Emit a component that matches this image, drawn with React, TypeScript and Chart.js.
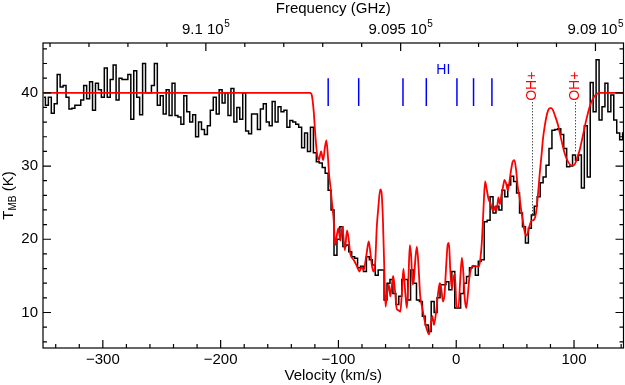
import React, { useEffect, useRef } from 'react';
import { Chart, registerables } from 'chart.js';

Chart.register(...registerables);

// Observed spectrum: channel velocities start at V0 with width DV (km/s)
const CHANNEL_V0 = -350;
const CHANNEL_DV = 2.5;
const TMB_OBSERVED = [
  39.4, 38.3, 39.4, 37.2, 38.5, 42.5, 40.8, 41.0, 39.4, 37.8,
  37.9, 38.3, 38.3, 39.0, 41.0, 39.2, 41.5, 37.6, 41.3, 40.4,
  39.4, 43.4, 39.4, 41.8, 43.8, 39.0, 42.0, 41.8, 41.8, 42.5,
  36.4, 43.0, 39.4, 37.0,
  44.0, 40.0, 40.0, 41.0, 44.0, 38.3, 39.6, 37.1, 40.4, 36.9,
  41.3, 36.9, 36.7, 35.7, 39.6, 37.4, 36.0, 37.0, 34.0, 36.0,
  35.0, 34.3, 35.5, 37.6, 39.4, 37.1, 40.4, 38.6, 40.0, 36.9,
  40.6, 36.0,
  38.0, 36.4, 40.0, 34.8, 34.4, 37.1, 37.1, 35.0, 37.8, 38.5,
  36.0, 35.5, 38.8, 36.0, 38.1, 37.4, 37.6, 35.3, 36.2, 36.0,
  35.7, 35.3, 32.5, 34.5, 32.0, 35.3, 31.8, 30.6, 30.4, 29.8,
  29.0, 26.7, 24.0, 17.8,
  20.0, 21.7, 19.0, 19.2, 18.3, 17.6, 17.4, 16.1, 16.3, 15.6,
  17.6, 17.2, 16.5, 15.1, 15.8, 15.8, 11.7, 14.0, 14.5, 12.6,
  11.1, 12.2, 14.5, 14.5, 11.7, 15.8, 14.0, 11.7, 11.5, 9.5,
  8.3, 7.4,
  11.5, 10.0, 12.0, 13.8, 13.8, 14.2, 13.1, 15.6, 10.6, 10.6,
  12.6, 14.0, 14.9, 16.1, 16.3, 15.1, 17.0, 17.2, 22.4, 22.6,
  25.8, 23.6, 24.5, 24.0, 26.7, 25.8, 27.4, 28.6, 27.9, 26.3,
  23.6, 21.7, 19.5,
  21.5, 23.3, 24.5, 25.8, 27.7, 28.5, 30.1, 32.4, 34.9, 35.0,
  35.1, 34.3, 32.4, 29.9, 30.0, 31.5, 30.8, 31.5, 27.0, 35.5,
  28.5, 41.4, 37.4, 44.5, 36.3, 38.1, 41.3, 37.4, 39.7, 36.3,
  34.5, 33.6, 34.5,
];

// Model fit (red)
const MODEL_VELOCITY = [
  -350, -124, -122.5, -121, -119.5, -118, -116.7, -114.7, -113, -111.5,
  -110.2, -109, -108, -106.8, -105.5, -104, -102.8, -101.4, -100, -98.4,
  -96.6, -94.6, -92.7, -91.3, -89.9, -87.1, -84.2, -82.2, -80.4, -78.6,
  -76.3, -74.3, -72.9, -71.5, -70.1, -68.7, -67.5, -66.2, -64.5, -63.5,
  -62.2, -61, -60, -58.8, -57.2, -56, -54.8, -53.5, -52, -50.5,
  -49, -47.5, -46.2, -44.8, -43.4, -41.9, -40.6, -39.4, -38.3, -37,
  -35.8, -34.6, -33.4, -32, -30.6, -29, -27.2, -25, -23, -21.5,
  -20.2, -18.9, -17, -15.5, -14, -12.7, -11.3, -9.9, -8.5, -7.2,
  -6.2, -5.1, -3.8, -2.6, -1.2, 0.3, 1.9, 3.4, 4.8, 5.8,
  7.2, 8.5, 9.9, 11.3, 12.7, 14.6, 17.5, 19.4, 20.6, 21.7,
  23.1, 24.5, 25.9, 27.4, 28.7, 30.2, 31.5, 33, 34.4, 35.8,
  37.2, 38.5, 39.8, 41, 42.4, 43.8, 45.2, 46.6, 48, 49.4,
  50.8, 52.2, 53.7, 55.1, 56.5, 57.9, 59.3, 60.7, 62.2, 63.8,
  65.5, 67, 68.1, 69.5, 70.9, 72.3, 73.7, 75.1, 76.5, 78,
  79.5, 80.8, 82.2, 83.6, 86.4, 89.2, 92.1, 94.9, 97.7, 100,
  102, 104.8, 107.6, 110.4, 113.3, 116.1, 118.9, 121.7, 142,
];
const MODEL_TMB = [
  40, 40, 39.6, 37.5, 34, 31.5, 30.8, 32, 30.8, 32.5,
  33.5, 31.5, 29, 27.2, 25, 22.6, 19.2, 20.5, 21.5, 19.8,
  21.7, 18.5, 21.2, 20, 18, 17.2, 16.3, 15.6, 16.2, 15.8,
  17.8, 19.7, 18.2, 16.3, 15.6, 17, 21.5, 24.2, 26.8, 26.5,
  22.5, 15.5, 10.8, 12.5, 13.8, 12.2, 13.5, 15, 13, 10.5,
  10.3, 10.1, 12.5, 16, 13, 10.6, 14.5, 19.2, 17.8, 13.8,
  14.8, 17.5, 19, 16.3, 12.3, 10.8, 9.2, 7.7, 7, 8.5,
  9.5, 8.3, 10.2, 12.5, 14, 13.3, 11.5, 12.5, 16.5, 19.3,
  19.5, 16, 13.2, 14.5, 15.3, 10.7, 10.7, 14.5, 17.5, 16,
  12, 10.6, 12.5, 15, 16, 16.4, 16.3, 16.3, 17.5, 19.5,
  24, 27.9, 26.8, 25.5, 25, 24.3, 23.8, 24.5, 24, 25.7,
  24.8, 26.2, 27.2, 28.1, 27.6, 26.7, 27.9, 29.5, 30.6, 30.8,
  29.5, 27.2, 25.8, 24, 22.6, 21.2, 20.5, 20.8, 21.8, 22.5,
  22.6, 23, 24, 26.3, 29, 31.3, 33.8, 35.4, 36.7, 37.6,
  37.9, 37.9, 37.6, 37, 35.6, 33.6, 31.7, 30.6, 30.1, 30.1,
  30.8, 32.2, 34.2, 36.3, 38.1, 39.2, 39.8, 40, 40,
];

// HI hyperfine component markers
const HI_VELOCITIES = [-108.7, -82.8, -45.2, -25.4, 0.6, 14.7, 30.3];
const HI_MARK_TMB = [38.2, 42.0];
const HI_LABEL = { text: 'HI', v: -11, t: 43.1 };

// OH+ markers
const OH_VELOCITIES = [64.1, 100.8];
const OH_LINE_BOTTOM_TMB = [23.1, 31.8];
const OH_LINE_TOP_TMB = 38.7;
const OH_LABEL_TMB = 40.9;
const OH_LABEL = 'OH+';

// Axes
const X_RANGE = [-350.8, 142];
const Y_RANGE = [5.15, 46.8];
const FREQ_RANGE = [908928, 910418];
const X_TICKS = [-300, -200, -100, 0, 100];
const Y_TICKS = [10, 20, 30, 40];
const FREQ_TICKS = [910000, 909500, 909000];
const FREQ_TICK_LABELS = ['9.1', '9.095', '9.09'];

const FONT = "'Liberation Sans', Arial, Helvetica, sans-serif";
const FS = 15;
const FS_SMALL = 10;

const decorPlugin = {
  id: 'decor',
  afterDatasetsDraw(chart: any) {
    const { ctx, scales } = chart;
    const x = scales.x;
    const y = scales.y;
    ctx.save();
    // HI markers
    ctx.strokeStyle = '#0000ff';
    ctx.lineWidth = 1.5;
    HI_VELOCITIES.forEach((v) => {
      const px = x.getPixelForValue(v);
      ctx.beginPath();
      ctx.moveTo(px, y.getPixelForValue(HI_MARK_TMB[0]));
      ctx.lineTo(px, y.getPixelForValue(HI_MARK_TMB[1]));
      ctx.stroke();
    });
    ctx.fillStyle = '#0000ff';
    ctx.font = `${FS - 1}px ${FONT}`;
    ctx.textAlign = 'center';
    ctx.textBaseline = 'middle';
    ctx.fillText(HI_LABEL.text, x.getPixelForValue(HI_LABEL.v), y.getPixelForValue(HI_LABEL.t));

    // OH+ dotted lines
    ctx.strokeStyle = '#000';
    ctx.lineWidth = 1;
    ctx.setLineDash([1, 2]);
    OH_VELOCITIES.forEach((v, i) => {
      const px = Math.round(x.getPixelForValue(v)) + 0.5;
      ctx.beginPath();
      ctx.moveTo(px, y.getPixelForValue(OH_LINE_TOP_TMB));
      ctx.lineTo(px, y.getPixelForValue(OH_LINE_BOTTOM_TMB[i]));
      ctx.stroke();
    });
    ctx.setLineDash([]);
    // OH+ labels rotated
    ctx.fillStyle = '#ff0000';
    ctx.font = `${FS - 1}px ${FONT}`;
    OH_VELOCITIES.forEach((v) => {
      ctx.save();
      ctx.translate(x.getPixelForValue(v), y.getPixelForValue(OH_LABEL_TMB));
      ctx.rotate(-Math.PI / 2);
      ctx.textAlign = 'center';
      ctx.textBaseline = 'middle';
      ctx.fillText(OH_LABEL, 0, 0);
      ctx.restore();
    });
    ctx.restore();
  },
  afterDraw(chart: any) {
    const { ctx, chartArea, scales } = chart;
    const { left, right, top, bottom } = chartArea;
    const x = scales.x;
    const y = scales.y;
    const xt = scales.xTop;
    ctx.save();
    ctx.strokeStyle = '#000';
    ctx.lineWidth = 1.2;
    ctx.strokeRect(left, top, right - left, bottom - top);
    const MAJ = 8;
    const MIN = 4;
    ctx.beginPath();
    for (let v = -340; v <= 140; v += 20) {
      const px = x.getPixelForValue(v);
      const len = v % 100 === 0 ? MAJ : MIN;
      ctx.moveTo(px, bottom);
      ctx.lineTo(px, bottom - len);
    }
    for (let f = 909000; f <= 910400; f += 100) {
      const px = xt.getPixelForValue(f);
      const len = f % 500 === 0 ? MAJ : MIN;
      ctx.moveTo(px, top);
      ctx.lineTo(px, top + len);
    }
    for (let t = 6; t <= 46; t += 2) {
      const py = y.getPixelForValue(t);
      const len = t % 10 === 0 ? MAJ : MIN;
      ctx.moveTo(left, py);
      ctx.lineTo(left + len, py);
      ctx.moveTo(right, py);
      ctx.lineTo(right - len, py);
    }
    ctx.stroke();

    // Frequency tick labels with superscript exponent
    ctx.fillStyle = '#000';
    ctx.textBaseline = 'alphabetic';
    ctx.textAlign = 'left';
    FREQ_TICKS.forEach((f, i) => {
      const main = `${FREQ_TICK_LABELS[i]} 10`;
      ctx.font = `${FS}px ${FONT}`;
      const wMain = ctx.measureText(main).width;
      ctx.font = `${FS_SMALL}px ${FONT}`;
      const wSup = ctx.measureText('5').width;
      const total = wMain + wSup + 0.5;
      let x0 = xt.getPixelForValue(f) - total / 2;
      if (x0 + total > chart.width - 1) x0 = chart.width - 1 - total;
      ctx.font = `${FS}px ${FONT}`;
      ctx.fillText(main, x0, 33.5);
      ctx.font = `${FS_SMALL}px ${FONT}`;
      ctx.fillText('5', x0 + wMain + 0.5, 26.5);
    });

    // Y title T_MB (K)
    const cy = (top + bottom) / 2;
    ctx.save();
    ctx.translate(7, cy);
    ctx.rotate(-Math.PI / 2);
    ctx.font = `${FS}px ${FONT}`;
    const wT = ctx.measureText('T').width;
    const wK = ctx.measureText(' (K)').width;
    ctx.font = `${FS_SMALL}px ${FONT}`;
    const wMB = ctx.measureText('MB').width;
    const tot = wT + wMB + wK;
    let sx = -tot / 2;
    ctx.font = `${FS}px ${FONT}`;
    ctx.fillText('T', sx, 5.5);
    sx += wT;
    ctx.font = `${FS_SMALL}px ${FONT}`;
    ctx.fillText('MB', sx, 8.5);
    sx += wMB;
    ctx.font = `${FS}px ${FONT}`;
    ctx.fillText(' (K)', sx, 5.5);
    ctx.restore();
    ctx.restore();
  },
};

export default function App() {
  const canvasRef = useRef<HTMLCanvasElement | null>(null);

  useEffect(() => {
    document.body.style.margin = '0';
    const canvas = canvasRef.current;
    if (!canvas) return;
    const observed = TMB_OBSERVED.map((t, i) => ({ x: CHANNEL_V0 + i * CHANNEL_DV, y: t }));
    const model = MODEL_VELOCITY.map((v, i) => ({ x: v, y: MODEL_TMB[i] }));
    const tickFont = { family: FONT, size: FS };
    const chart = new Chart(canvas, {
      type: 'line',
      data: {
        datasets: [
          {
            label: 'Model',
            data: model,
            borderColor: 'rgb(255,0,0)',
            borderWidth: 1.8,
            pointRadius: 0,
            cubicInterpolationMode: 'monotone',
            fill: false,
            xAxisID: 'x',
            yAxisID: 'y',
          },
          {
            label: 'Observed',
            data: observed,
            borderColor: '#000',
            borderWidth: 1.5,
            pointRadius: 0,
            stepped: 'middle',
            fill: false,
            xAxisID: 'x',
            yAxisID: 'y',
          },
        ],
      },
      options: {
        responsive: false,
        animation: false,
        layout: { padding: { right: 1.5, top: 0, left: 0, bottom: 0 } },
        plugins: { legend: { display: false }, tooltip: { enabled: false } },
        scales: {
          x: {
            type: 'linear',
            position: 'bottom',
            min: X_RANGE[0],
            max: X_RANGE[1],
            afterBuildTicks: (s: any) => {
              s.ticks = X_TICKS.map((v) => ({ value: v }));
            },
            afterFit: (s: any) => {
              s.height = 37;
            },
            grid: { display: false, drawTicks: false },
            border: { display: false },
            ticks: {
              padding: 3,
              color: '#000',
              font: tickFont,
              maxRotation: 0,
              autoSkip: false,
              callback: (v: any) => String(v).replace('-', '\u2212'),
            },
            title: {
              display: true,
              text: 'Velocity (km/s)',
              color: '#000',
              font: tickFont,
              padding: { top: 0, bottom: 0 },
            },
          },
          xTop: {
            type: 'linear',
            position: 'top',
            min: FREQ_RANGE[0],
            max: FREQ_RANGE[1],
            reverse: true,
            afterFit: (s: any) => {
              s.height = 43;
            },
            grid: { display: false, drawTicks: false },
            border: { display: false },
            ticks: { display: false },
            title: {
              display: true,
              text: 'Frequency (GHz)',
              color: '#000',
              font: tickFont,
              padding: { top: 0, bottom: 0 },
            },
          },
          y: {
            type: 'linear',
            position: 'left',
            min: Y_RANGE[0],
            max: Y_RANGE[1],
            afterBuildTicks: (s: any) => {
              s.ticks = Y_TICKS.map((v) => ({ value: v }));
            },
            afterFit: (s: any) => {
              s.width = 43;
            },
            grid: { display: false, drawTicks: false },
            border: { display: false },
            ticks: { padding: 5, color: '#000', font: tickFont },
          },
        },
      },
      plugins: [decorPlugin],
    } as any);
    return () => chart.destroy();
  }, []);

  return (
    <div style={{ width: 625, height: 385, background: '#fff' }}>
      <canvas ref={canvasRef} width={625} height={385} style={{ display: 'block' }} />
    </div>
  );
}
